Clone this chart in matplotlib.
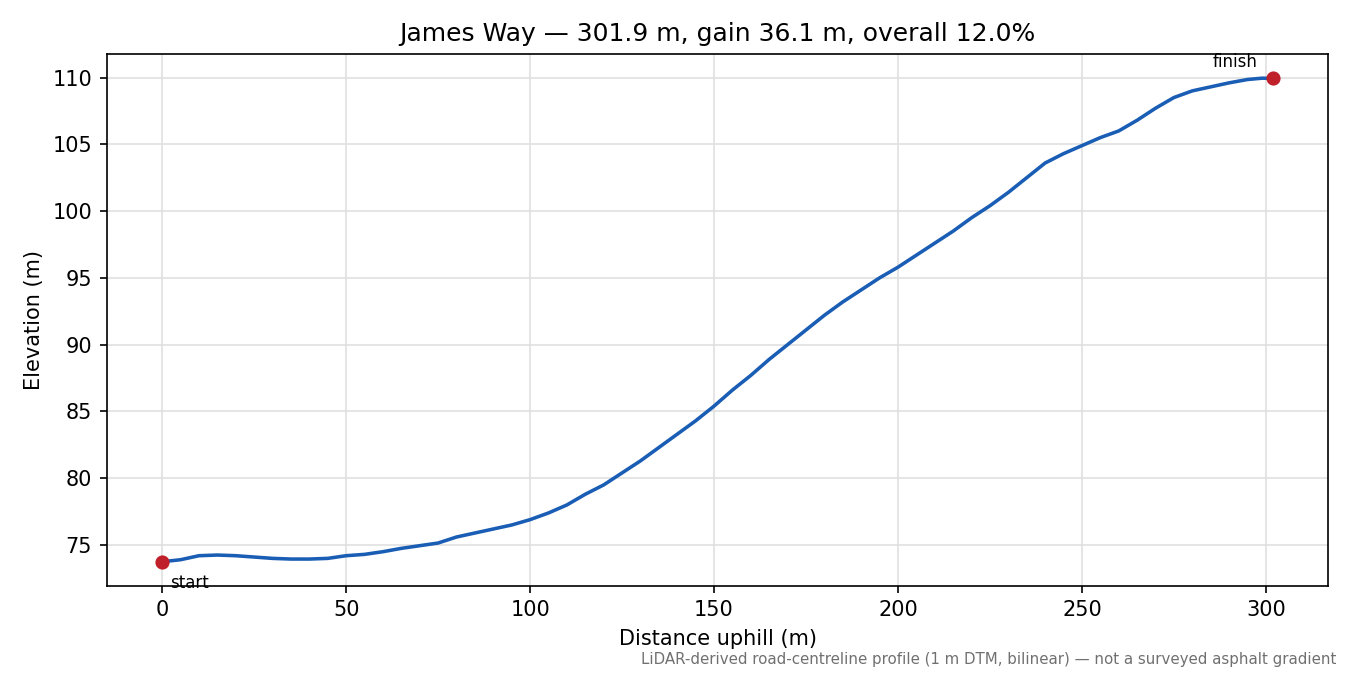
import matplotlib
matplotlib.use("Agg")
import matplotlib.pyplot as plt
import numpy as np

distance = [0, 5, 10, 15, 20, 25, 30, 35, 40, 45, 50, 55, 60, 65, 70, 75, 80, 85, 90, 95,
            100, 105, 110, 115, 120, 125, 130, 135, 140, 145, 150, 155, 160, 165, 170, 175,
            180, 185, 190, 195, 200, 205, 210, 215, 220, 225, 230, 235, 240, 245, 250, 255,
            260, 265, 270, 275, 280, 285, 290, 295, 299, 301.9]
elevation = [73.75, 73.9, 74.2, 74.25, 74.2, 74.1, 74.0, 73.95, 73.95, 74.0, 74.2, 74.3,
             74.5, 74.75, 74.95, 75.15, 75.6, 75.9, 76.2, 76.5, 76.9, 77.4, 78.0, 78.8,
             79.5, 80.4, 81.3, 82.3, 83.3, 84.3, 85.4, 86.6, 87.7, 88.9, 90.0, 91.1,
             92.2, 93.2, 94.1, 95.0, 95.8, 96.7, 97.6, 98.5, 99.5, 100.4, 101.4, 102.5,
             103.6, 104.3, 104.9, 105.5, 106.0, 106.8, 107.7, 108.5, 109.0, 109.3, 109.6,
             109.85, 109.95, 109.93]

title = "James Way \u2014 301.9 m, gain 36.1 m, overall 12.0%"
footnote = "LiDAR-derived road-centreline profile (1 m DTM, bilinear) \u2014 not a surveyed asphalt gradient"

fig = plt.figure(figsize=(9, 4.5), dpi=150)
ax = fig.add_axes([0.079, 0.132, 0.905, 0.788])

ax.plot(distance, elevation, color="#1a5db4", lw=1.7, zorder=3)
ax.plot([distance[0], distance[-1]], [elevation[0], elevation[-1]], "o",
        color="#c0202a", ms=5.8, zorder=4)
ax.annotate("start", (distance[0], elevation[0]), xytext=(4, -6),
            textcoords="offset points", ha="left", va="top", fontsize=8)
ax.annotate("finish", (distance[-1], elevation[-1]), xytext=(-7.5, 3.5),
            textcoords="offset points", ha="right", va="bottom", fontsize=8)

ax.grid(True, color="#e0e0e0", lw=0.8)
ax.set_axisbelow(True)
ax.set_xlabel("Distance uphill (m)")
ax.set_ylabel("Elevation (m)")
ax.set_title(title, fontsize=12)
fig.text(0.99, 0.012, footnote, ha="right", va="bottom", fontsize=7.2, color="#707070")

fig.savefig("out.png", dpi=150)
